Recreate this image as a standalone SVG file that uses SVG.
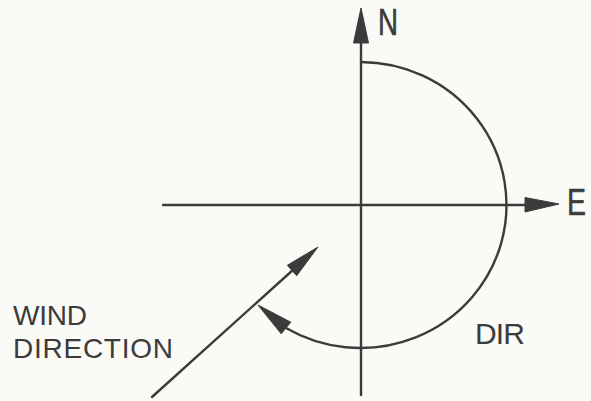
<svg xmlns="http://www.w3.org/2000/svg" width="591" height="401" viewBox="0 0 591 401">
<style>
.ln{fill:none;stroke:#3c3a3a;stroke-width:2.4;stroke-linecap:round}
.ah{fill:#3c3a3a;stroke:#3c3a3a;stroke-width:1;stroke-linejoin:round}
.t{font-family:"Liberation Sans",Arial,sans-serif;fill:#3c3a3a}
</style>
<rect width="591" height="401" fill="#fafaf6"/>
<g id="connectors">
<line class="ln" x1="361" y1="40" x2="361" y2="395"/>
<polygon class="ah" points="361,8 353.5,43 368.5,43"/>
<line class="ln" x1="163" y1="205" x2="528" y2="205"/>
<polygon class="ah" points="559,204 525,197.5 525,212"/>
<path class="ln" d="M 361 62 A 146 143 0 1 1 286 328"/>
<polygon class="ah" points="258,305 290.8,322.2 281.2,333.8"/>
<line class="ln" x1="152" y1="397" x2="294" y2="269"/>
<polygon class="ah" points="318,247 296.7,275.7 287.3,265.3"/>
</g>
<g id="label-N"><text class="t" x="378" y="35" font-size="37" textLength="20" lengthAdjust="spacingAndGlyphs" stroke="#3c3a3a" stroke-width="0.6">N</text></g>
<g id="label-E"><text class="t" x="567" y="215" font-size="37" textLength="19" lengthAdjust="spacingAndGlyphs" stroke="#3c3a3a" stroke-width="0.6">E</text></g>
<g id="label-wind"><text class="t" font-size="28"><tspan x="13" y="325" textLength="74">WIND</tspan><tspan x="13" y="358" textLength="160">DIRECTION</tspan></text></g>
<g id="label-dir"><text class="t" x="475" y="344" font-size="30" textLength="50">DIR</text></g>
</svg>
